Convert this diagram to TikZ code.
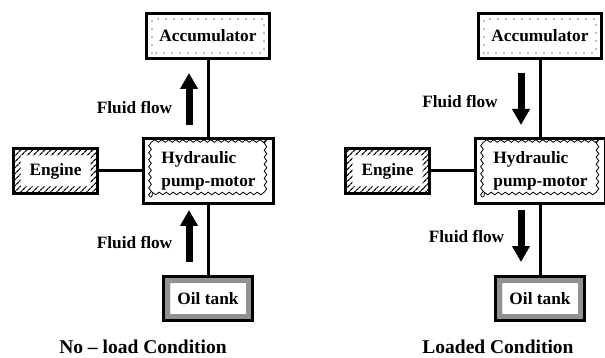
\documentclass[tikz,border=0pt]{standalone}
\usepackage{fontspec}
\setmainfont{Liberation Serif}
\usetikzlibrary{arrows.meta,patterns,patterns.meta,decorations.pathmorphing}
\begin{document}
\begin{tikzpicture}[x=1pt,y=-1pt,
  lbl/.style={font=\fontsize{17.3}{23}\selectfont\bfseries},
  captxt/.style={font=\fontsize{19.5}{22}\selectfont\bfseries},
  box/.style={draw, line width=3pt, inner sep=0pt, lbl},
  conn/.style={line width=3pt},
  flow/.style={line width=7pt, -{Triangle[width=17pt,length=16pt]}},
  dotband/.style={path picture={
     \draw[line width=1.4pt, line cap=round, dash pattern=on 0pt off 8pt]
       ([shift={(5.5pt,5.5pt)}]path picture bounding box.south west) rectangle
       ([shift={(-5.5pt,-5.5pt)}]path picture bounding box.north east);}},
  waveband/.style={path picture={
     \draw[line width=0.8pt, decorate, decoration={snake, amplitude=1.3pt, segment length=7pt}]
       ([shift={(6.5pt,6.5pt)}]path picture bounding box.south west) rectangle
       ([shift={(-6.5pt,-6.5pt)}]path picture bounding box.north east);}},
  hatchband/.style={path picture={
     \fill[pattern={Lines[angle=45,distance=4pt,line width=1.3pt]}, even odd rule]
       (path picture bounding box.south west) rectangle (path picture bounding box.north east)
       ([shift={(7pt,7pt)}]path picture bounding box.south west) rectangle
       ([shift={(-7pt,-7pt)}]path picture bounding box.north east);}},
  grayband/.style={path picture={
     \fill[gray!60, even odd rule]
       (path picture bounding box.south west) rectangle (path picture bounding box.north east)
       ([shift={(6.5pt,6.5pt)}]path picture bounding box.south west) rectangle
       ([shift={(-6.5pt,-6.5pt)}]path picture bounding box.north east);
     \fill[pattern={Dots[distance=2pt,radius=0.55pt]}, pattern color=black!85, even odd rule]
       (path picture bounding box.south west) rectangle (path picture bounding box.north east)
       ([shift={(6.5pt,6.5pt)}]path picture bounding box.south west) rectangle
       ([shift={(-6.5pt,-6.5pt)}]path picture bounding box.north east);}}
]
\useasboundingbox (0,0) rectangle (605,358);

% ---------- left panel: no-load ----------
\node[box, dotband, minimum width=123pt, minimum height=45pt] (accL) at (208,36) {Accumulator};
\node[box, waveband, align=left, minimum width=130pt, minimum height=65pt] (hydL) at (208.5,171) {Hydraulic\\pump-motor};
\node[box, hatchband, minimum width=84pt, minimum height=45pt] (engL) at (55.5,171) {Engine};
\node[box, grayband, minimum width=89pt, minimum height=44pt] (oilL) at (208,298.5) {Oil tank};

\draw[conn] (accL.south) -- (accL.south |- hydL.north);
\draw[conn] (engL.east) -- (hydL.west);
\draw[conn] (oilL.north |- hydL.south) -- (oilL.north);

\coordinate (aL1s) at (189,125);
\coordinate (aL1e) at (189,73);
\coordinate (aL2s) at (189,262);
\coordinate (aL2e) at (189,210);
\draw[flow] (aL1s) -- (aL1e);
\draw[flow] (aL2s) -- (aL2e);

\node[lbl, anchor=base] (fL1) at (134.5,114) {Fluid flow};
\node[lbl, anchor=base] (fL2) at (134.5,248) {Fluid flow};
\node[captxt, anchor=base] (capL) at (143,353) {No -- load Condition};

% ---------- right panel: loaded ----------
\node[box, dotband, minimum width=123pt, minimum height=45pt] (accR) at (540,36) {Accumulator};
\node[box, waveband, align=left, minimum width=130pt, minimum height=65pt] (hydR) at (540.5,171) {Hydraulic\\pump-motor};
\node[box, hatchband, minimum width=84pt, minimum height=45pt] (engR) at (387.5,171) {Engine};
\node[box, grayband, minimum width=89pt, minimum height=44pt] (oilR) at (540,298.5) {Oil tank};

\draw[conn] (accR.south) -- (accR.south |- hydR.north);
\draw[conn] (engR.east) -- (hydR.west);
\draw[conn] (oilR.north |- hydR.south) -- (oilR.north);

\coordinate (aR1s) at (521,73);
\coordinate (aR1e) at (521,125);
\coordinate (aR2s) at (521,210);
\coordinate (aR2e) at (521,262);
\draw[flow] (aR1s) -- (aR1e);
\draw[flow] (aR2s) -- (aR2e);

\node[lbl, anchor=base] (fR1) at (460,108) {Fluid flow};
\node[lbl, anchor=base] (fR2) at (466.5,243) {Fluid flow};
\node[captxt, anchor=base] (capR) at (498,353) {Loaded Condition};
\end{tikzpicture}
\end{document}
